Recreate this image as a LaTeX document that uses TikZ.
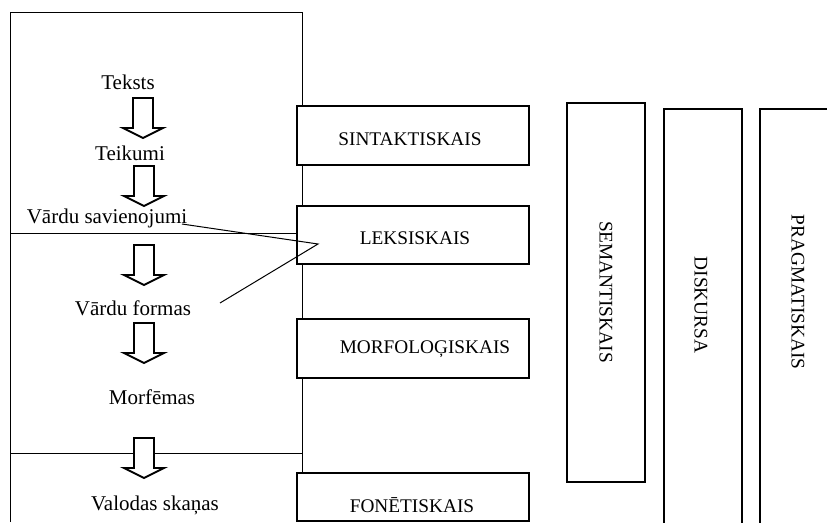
\documentclass[tikz,border=0pt]{standalone}
\usepackage{fontspec}
\setmainfont{Liberation Serif}
\begin{document}
\begin{tikzpicture}[x=1pt,y=-1pt,
  frame/.style={line width=0.9pt},
  levelbox/.style={draw, rectangle, line width=2pt, fill=white, inner sep=0pt},
  unit/.style={font=\fontsize{21}{25}\selectfont, anchor=base, inner sep=0pt},
  lvl/.style={font=\fontsize{19.3}{23}\selectfont, anchor=base, inner sep=0pt},
  vlvl/.style={font=\fontsize{19.3}{23}\selectfont, rotate=-90, inner sep=0pt},
  link/.style={line width=1pt},
  down/.pic={\draw[line width=1.9pt, fill=white, line join=miter]
    (-10,0) -- (-10,30) -- (-20,30) -- (0,40) -- (20,30) -- (10,30) -- (10,0) -- cycle;}
]
\clip (0,0) rectangle (827,522);
\fill[white] (0,0) rectangle (827,522);

% frame around the hierarchy of units
\draw[frame] (10,522) -- (10,12) -- (302,12) -- (302,473);
\draw[frame] (10,233) -- (302,233);
\draw[frame] (10,453) -- (302,453);

% language levels
\node[levelbox, minimum width=232pt, minimum height=59pt] (sint) at (413,135.5) {};
\node[levelbox, minimum width=232pt, minimum height=58pt] (leks) at (413,235) {};
\node[levelbox, minimum width=232pt, minimum height=59pt] (morf) at (413,348.5) {};
\node[levelbox, minimum width=232pt, minimum height=48pt] (fon) at (413,497) {};
\node[levelbox, minimum width=78pt, minimum height=379pt] (sem) at (606,292.5) {};
\node[levelbox, minimum width=78pt, minimum height=442pt] (disk) at (703,330) {};
\node[levelbox, minimum width=120pt, minimum height=442pt] (prag) at (820,330) {};

\node[lvl] (sintT) at (410,145) {SINTAKTISKAIS};
\node[lvl] (leksT) at (415,244) {LEKSISKAIS};
\node[lvl] (morfT) at (425,353) {MORFOLOĢISKAIS};
\node[lvl] (fonT) at (412,512) {FONĒTISKAIS};
\node[vlvl] (semT) at (606,292) {SEMANTISKAIS};
\node[vlvl] (diskT) at (701,305) {DISKURSA};
\node[vlvl] (pragT) at (798,292) {PRAGMATISKAIS};

% units
\node[unit] (teksts) at (128,89) {Teksts};
\node[unit] (teik) at (130,160) {Teikumi};
\node[unit] (vsav) at (107,223) {Vārdu savienojumi};
\node[unit] (vform) at (133,315) {Vārdu formas};
\node[unit] (morfe) at (152,404) {Morfēmas};
\node[unit] (skan) at (155,510) {Valodas skaņas};

% hollow arrows between units
\pic at (143,98) {down};
\pic at (144,166) {down};
\pic at (144,245) {down};
\pic at (144,323) {down};
\pic at (144,438) {down};

% lexical level links
\coordinate (jEnd) at (182,224);
\coordinate (apex) at (318,244);
\coordinate (fEnd) at (220,303);
\draw[link] (jEnd) -- (apex) -- (fEnd);
\end{tikzpicture}
\end{document}
